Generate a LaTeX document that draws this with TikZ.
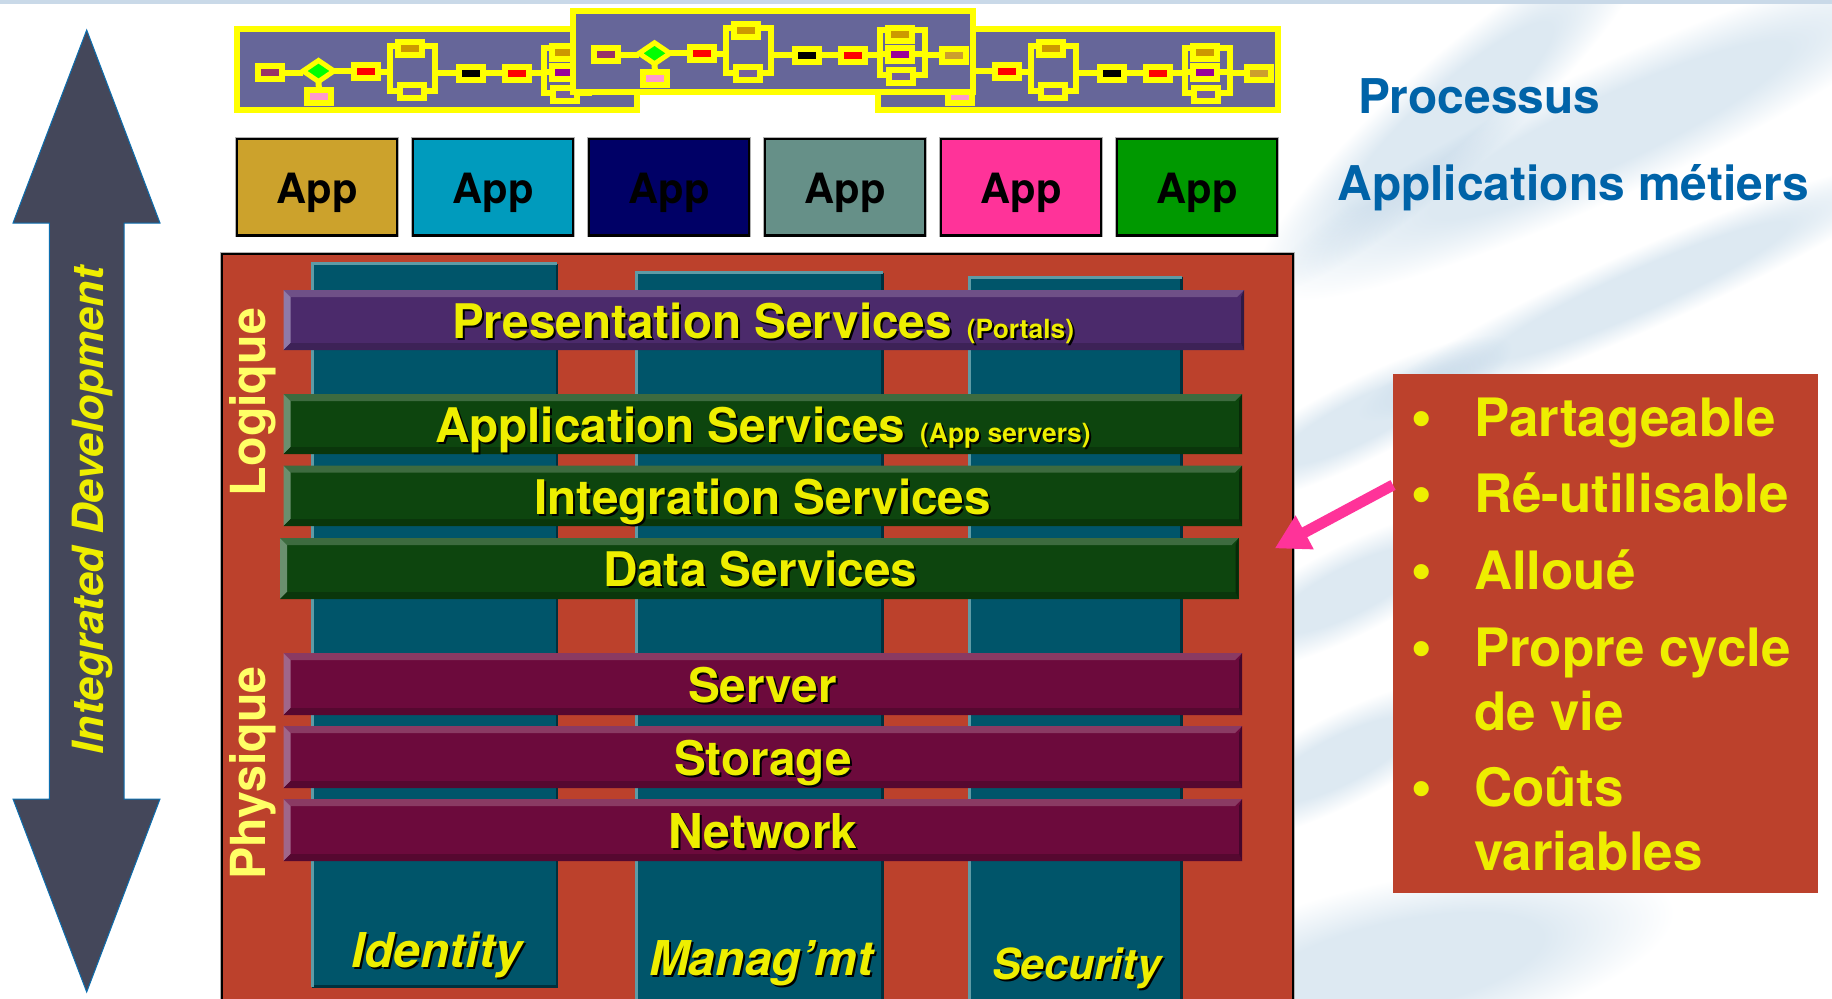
\documentclass[tikz,border=0pt]{standalone}
\usepackage{fontspec}
\setmainfont{TeX Gyre Heros}
\newfontfamily\bulfont{Liberation Sans}
\usetikzlibrary{shapes.geometric,arrows.meta,calc}
\definecolor{stripC}{HTML}{C9D9E8}
\definecolor{streakC}{HTML}{DDE9F2}
\definecolor{procY}{HTML}{FFFF00}
\definecolor{procB}{HTML}{666699}
\definecolor{txtY}{HTML}{EEEE00}
\definecolor{softY}{HTML}{FFFF66}
\definecolor{mainR}{HTML}{BC412C}
\definecolor{titleB}{HTML}{0063A8}
\definecolor{arrowF}{HTML}{44475A}
\definecolor{arrowE}{HTML}{0D6FB0}
\definecolor{pinkA}{HTML}{FF3399}
\definecolor{colF}{HTML}{00556A}
\definecolor{colL}{HTML}{5E9BA6}
\definecolor{colD}{HTML}{00303D}
\definecolor{appA}{HTML}{CCA22C}
\definecolor{appB}{HTML}{009BBD}
\definecolor{appC}{HTML}{000066}
\definecolor{appD}{HTML}{669088}
\definecolor{appE}{HTML}{FF3399}
\definecolor{appF}{HTML}{009900}
\definecolor{HLa}{HTML}{993366}
\definecolor{HLp}{HTML}{FF99CC}
\definecolor{HLo}{HTML}{CC9900}
\definecolor{HLv}{HTML}{76609C}
\definecolor{HLm}{HTML}{990099}
\definecolor{HLg}{HTML}{CC9F2C}
\definecolor{Pmain}{HTML}{4B2A6B}\definecolor{Ptop}{HTML}{6F5087}\definecolor{Pleft}{HTML}{8E7AA8}\definecolor{Pbot}{HTML}{3D2257}\definecolor{Pright}{HTML}{2F1A45}
\definecolor{Gmain}{HTML}{0D450E}\definecolor{Gtop}{HTML}{3D6B3F}\definecolor{Gleft}{HTML}{6A8F6E}\definecolor{Gbot}{HTML}{0A360B}\definecolor{Gright}{HTML}{072A08}
\definecolor{Mmain}{HTML}{6C0A3C}\definecolor{Mtop}{HTML}{8A3A63}\definecolor{Mleft}{HTML}{A0668A}\definecolor{Mbot}{HTML}{560830}\definecolor{Mright}{HTML}{45062B}
\pgfdeclareradialshading{streakshade}{\pgfpoint{0bp}{0bp}}{color(0bp)=(streakC); color(13bp)=(streakC); color(25bp)=(white); color(50bp)=(white)}
\newcommand{\shtxt}[1]{\leavevmode\rlap{\kern2pt\lower2pt\hbox{\color{black}#1}}#1}
\newcommand{\streak}[5]{\begin{scope}[transform canvas={shift={(#1,#2)},rotate=#3}]
  \shade[shading=streakshade,blend mode=multiply] (-#4/2,-#5/2) rectangle (#4/2,#5/2);
\end{scope}}
\newcommand{\bevelbar}[6]{%
  \pgfmathsetmacro\bvW{#4-#2}\pgfmathsetmacro\bvH{#5-#3}%
  \node[barbox,fill=#6main,minimum width=\bvW pt,minimum height=\bvH pt] (#1) at (#2,#3) {};
  \fill[#6top] (#1.north west) -- (#1.north east) -- ([shift={(-7pt,-7pt)}]#1.north east) -- ([shift={(7pt,-7pt)}]#1.north west) -- cycle;
  \fill[#6left] (#1.north west) -- (#1.south west) -- ([shift={(7pt,7pt)}]#1.south west) -- ([shift={(7pt,-7pt)}]#1.north west) -- cycle;
  \fill[#6bot] (#1.south west) -- (#1.south east) -- ([shift={(-3pt,7pt)}]#1.south east) -- ([shift={(7pt,7pt)}]#1.south west) -- cycle;
  \fill[#6right] (#1.north east) -- (#1.south east) -- ([shift={(-3pt,7pt)}]#1.south east) -- ([shift={(-3pt,-7pt)}]#1.north east) -- cycle;
}
\tikzset{
  procframe/.style={rectangle,draw=procY,line width=6pt,fill=procB,minimum width=400pt,minimum height=81.3pt,inner sep=0pt,outer sep=0pt},
  stepbox/.style={rectangle,draw=procY,line width=6pt,fill=#1,minimum width=24pt,minimum height=13pt,inner sep=0pt,outer sep=0pt},
  condbox/.style={diamond,draw=procY,line width=5pt,fill=green,minimum width=31pt,minimum height=21pt,inner sep=0pt,outer sep=0pt},
  forkbox/.style={rectangle,draw=procY,line width=6pt,minimum width=#1,minimum height=45pt,inner sep=0pt,outer sep=0pt},
  plink/.style={draw=procY,line width=6pt},
  appbox/.style={rectangle,draw=black,line width=2.5pt,fill=#1,minimum width=160pt,minimum height=96.5pt,inner sep=0pt,outer sep=0pt,
    preaction={draw=black!30,line width=4pt},text=black,text height=40pt,text depth=7.4pt,font=\fontsize{41.7}{41.7}\selectfont\bfseries},
  barbox/.style={rectangle,anchor=north west,inner sep=0pt,outer sep=0pt},
  colbox/.style={rectangle,fill=colF,anchor=north west,inner sep=0pt,outer sep=0pt},
  coledgeL/.style={draw=colL,line width=3pt},
  coledgeD/.style={draw=colD,line width=2.5pt},
  lab/.style={inner sep=0pt,outer sep=0pt,anchor=base west,text=txtY,font=\fontsize{#1}{#1}\selectfont\bfseries},
  collab/.style={inner sep=0pt,outer sep=0pt,anchor=base west,text=txtY,font=\fontsize{#1}{#1}\selectfont\bfseries\itshape},
  sidelab/.style={inner sep=0pt,outer sep=0pt,anchor=base west,rotate=90,text=softY,font=\fontsize{48.3}{48.3}\selectfont\bfseries},
  titlelab/.style={inner sep=0pt,outer sep=0pt,anchor=base west,text=titleB,font=\fontsize{47.9}{47.9}\selectfont\bfseries},
  calltxt/.style={inner sep=0pt,outer sep=0pt,anchor=base west,align=left,text=txtY,font=\fontsize{52.9}{64}\selectfont\bfseries},
  callbul/.style={inner sep=0pt,outer sep=0pt,anchor=base,text=txtY,font=\bulfont\fontsize{52.7}{64}\selectfont\bfseries},
  proc/.pic={
    \node[procframe] (f) at (203,43.65) {};
    \node[stepbox=HLa] (a) at (35.6,46.8) {};
    \node[condbox] (d) at (84.5,45.3) {};
    \node[stepbox=HLp] (p) at (85,70.8) {};
    \node[stepbox=red] (r) at (132,45.8) {};
    \node[forkbox=45.5pt] (b) at (178.25,42.3) {};
    \node[stepbox=HLo] (bt) at (176,22.8) {};
    \node[stepbox=HLv] (bb) at (178.3,65.3) {};
    \node[stepbox=black] (k) at (237.2,47.3) {};
    \node[stepbox=red] (r2) at (282.8,47.3) {};
    \node[forkbox=45pt] (t) at (332,44.3) {};
    \node[stepbox=HLo] (tt) at (329.5,26.3) {};
    \node[stepbox=HLm] (tm) at (329.5,46.3) {};
    \node[stepbox=HLv] (tb) at (331,68.3) {};
    \node[stepbox=HLg] (e) at (383.5,47.3) {};
    \draw[plink] (a.east) -- (a.east -| d.west);
    \draw[plink] (d.south) -- (p.north);
    \draw[plink] (d.east) -- (d.east -| r.west);
    \draw[plink] (r.east) -- (r.east -| b.west);
    \draw[plink] (k.west -| b.east) -- (k.west);
    \draw[plink] (k.east) -- (r2.west);
    \draw[plink] (r2.east) -- (r2.east -| t.west);
    \draw[plink] (tm.west -| t.west) -- (tm.west);
    \draw[plink] (tm.east) -- (tm.east -| t.east);
    \draw[plink] (e.west -| t.east) -- (e.west);
  }
}
\begin{document}
\begin{tikzpicture}[x=1pt,y=-1pt]
\useasboundingbox (0,0) rectangle (1832,999);
\clip (0,0) rectangle (1832,999);
\fill[white] (0,0) rectangle (1832,999);
% background streaks
\streak{1450}{115}{42}{520}{110}
\streak{1610}{130}{25}{760}{130}
\streak{1640}{290}{24}{620}{80}
\streak{1360}{420}{27}{340}{80}
\streak{1350}{590}{27}{320}{90}
\streak{1340}{760}{27}{320}{90}
\streak{1400}{965}{12}{560}{170}
\fill[stripC] (0,0) rectangle (1832,3.5);
% process strips
\pic (pl) at (234,25.7) {proc};
\pic (pr) at (875,25.7) {proc};
\pic (pm) at (570,8) {proc};
% applications
\node[appbox=appA] (a1) at (317,187) {App};
\node[appbox=appB] (a2) at (493,187) {App};
\node[appbox=appC] (a3) at (669,187) {App};
\node[appbox=appD] (a4) at (845,187) {App};
\node[appbox=appE] (a5) at (1021,187) {App};
\node[appbox=appF] (a6) at (1197,187) {App};
\node[titlelab] (t1) at (1358,113) {Processus};
\node[titlelab] (t2) at (1337.5,200) {Applications métiers};
% main block
\node[rectangle,anchor=north west,draw=black,line width=2.5pt,fill=mainR,preaction={draw=black!30,line width=4pt},minimum width=1071pt,minimum height=760pt,inner sep=0pt] (main) at (220.5,252.7) {};
% columns
\node[colbox,minimum width=245pt,minimum height=723pt] (c1) at (312,263.5) {};
\node[colbox,minimum width=246.5pt,minimum height=730pt] (c2) at (636,272.5) {};
\node[colbox,minimum width=212pt,minimum height=725pt] (c3) at (969.5,277) {};
\foreach \c in {c1,c2,c3}{
  \draw[coledgeD] (\c.north east) -- (\c.south east) -- (\c.south west);
  \draw[coledgeL] (\c.south west) -- (\c.north west) -- (\c.north east);
}
% bars
\bevelbar{s1}{283.5}{290}{1244}{350}{P}
\bevelbar{s2}{283.5}{394}{1242}{454}{G}
\bevelbar{s3}{283.5}{465.5}{1242}{526}{G}
\bevelbar{s4}{280}{538}{1238.5}{599}{G}
\bevelbar{s5}{283.5}{653}{1242}{715}{M}
\bevelbar{s6}{283.5}{726}{1242}{788}{M}
\bevelbar{s7}{283.5}{799}{1242}{861}{M}
\node[lab=47.7] (l1) at (452,338) {\shtxt{Presentation Services}\hskip 15pt\fontsize{26.4}{26.4}\selectfont\shtxt{(Portals)}};
\node[lab=47.7] (l2) at (435,442.7) {\shtxt{Application Services}\hskip 15pt\fontsize{26.4}{26.4}\selectfont\shtxt{(App servers)}};
\node[lab=47.7] (l3) at (534,514) {\shtxt{Integration Services}};
\node[lab=47.7] (l4) at (603,586.7) {\shtxt{Data Services}};
\node[lab=47.7] (l5) at (688,702.7) {\shtxt{Server}};
\node[lab=47.7] (l6) at (674,775) {\shtxt{Storage}};
\node[lab=48] (l7) at (668,848) {\shtxt{Network}};
\node[collab=48] (m1) at (351,967) {\shtxt{Identity}};
\node[collab=48] (m2) at (649,975) {\shtxt{Manag’mt}};
\node[collab=42.8] (m3) at (992,979) {\shtxt{Security}};
\node[sidelab] (sl) at (265,496) {Logique};
\node[sidelab] (sp) at (265,879.5) {Physique};
% big arrow
\draw[fill=arrowF,draw=arrowE,line width=1pt] (86.7,30) -- (160,223) -- (124,223) -- (124,799) -- (160,799) -- (86.7,992) -- (13,799) -- (49.3,799) -- (49.3,223) -- (13,223) -- cycle;
\node[inner sep=0pt,outer sep=0pt,anchor=base west,rotate=90,text=txtY,font=\fontsize{43}{43}\selectfont\bfseries\itshape] (idv) at (103,754) {Integrated Development};
% callout
\node[rectangle,anchor=north west,fill=mainR,minimum width=425pt,minimum height=519pt,inner sep=0pt,outer sep=0pt] (call) at (1393,374) {};
\coordinate (tip) at (1274.7,548.4);
\draw[pinkA,line width=11pt,-{Triangle[length=34pt,width=36pt]}] ([yshift=-111pt]call.north west) -- (tip);
\node[calltxt] (i1) at (1474,436.5) {Partageable};
\node[calltxt] (i2) at (1474,512.6) {Ré-utilisable};
\node[calltxt] (i3) at (1474,589) {Alloué};
\node[calltxt] (i4) at (1474,666) {Propre cycle};
\node[calltxt] (i4b) at (1474,730) {de vie};
\node[calltxt] (i5) at (1474,806.7) {Coûts};
\node[calltxt] (i5b) at (1474,870.5) {variables};
\node[callbul] (b1) at (1422,436.5) {•};
\node[callbul] (b2) at (1422,512.6) {•};
\node[callbul] (b3) at (1422,589) {•};
\node[callbul] (b4) at (1422,666) {•};
\node[callbul] (b5) at (1422,806.7) {•};
\end{tikzpicture}
\end{document}
